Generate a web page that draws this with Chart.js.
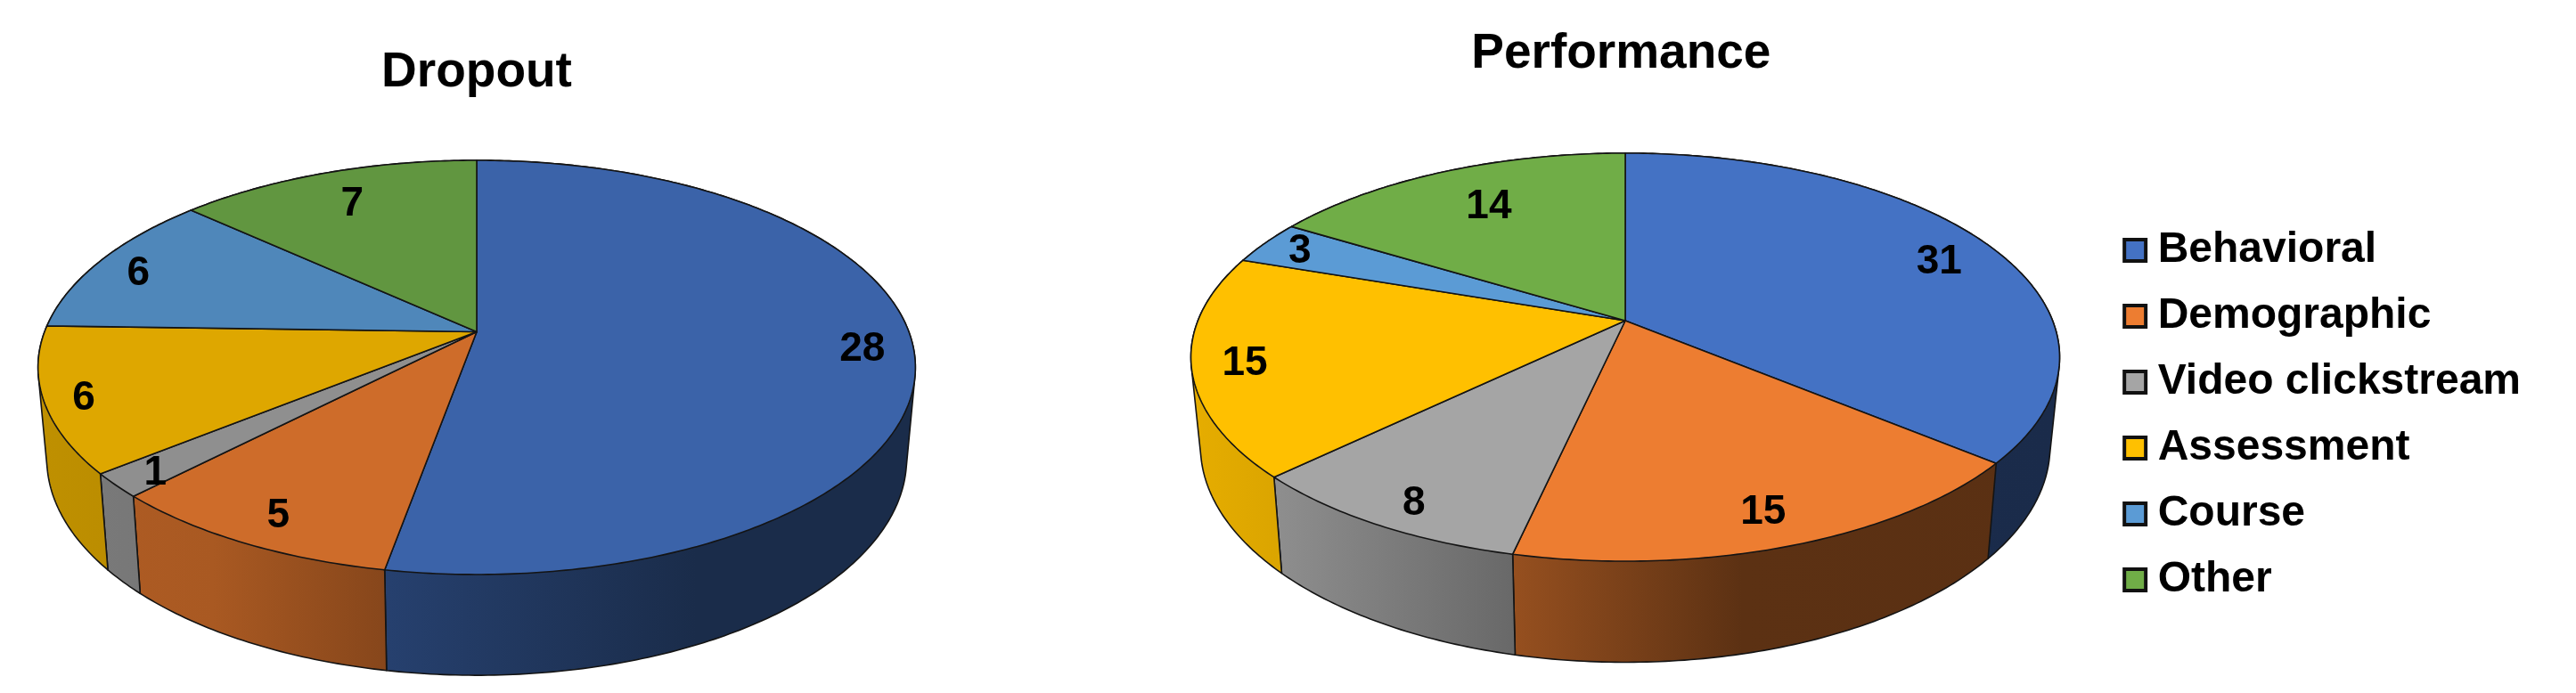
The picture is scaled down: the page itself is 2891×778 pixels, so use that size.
<!DOCTYPE html>
<html><head><meta charset="utf-8">
<style>
html,body{margin:0;padding:0;background:#fff;overflow:hidden;width:2891px;height:778px}
#stage{position:relative;width:2891px;height:778px;overflow:hidden}
canvas{position:absolute;display:block}
</style>
<script src="https://cdn.jsdelivr.net/npm/chart.js@4/dist/chart.umd.min.js"></script>
</head><body>
<div id="stage">
<canvas id="dropout" width="1070" height="778" style="left:0;top:0"></canvas>
<canvas id="performance" width="1569" height="932" style="left:1270px;top:0"></canvas>
</div>
<script>
const categories = ["Behavioral","Demographic","Video clickstream","Assessment","Course","Other"];
const dropoutValues = [28,5,1,6,6,7];
const performanceValues = [31,15,8,15,3,14];
const dropoutColors = ["#3B63A9","#CE6C2A","#8F8F8F","#DEA700","#4F87BA","#619640"];
const performanceColors = ["#4472C4","#ED7D31","#A5A5A5","#FFC000","#5B9BD5","#70AD47"];

function shade(hex,m){
  const n=parseInt(hex.slice(1),16);
  return `rgb(${Math.round((n>>16&255)*m)},${Math.round((n>>8&255)*m)},${Math.round((n&255)*m)})`;
}
function hull(points){
  const p=points.slice().sort((a,b)=>a[0]-b[0]||a[1]-b[1]);
  const cross=(o,a,b)=>(a[0]-o[0])*(b[1]-o[1])-(a[1]-o[1])*(b[0]-o[0]);
  const lo=[],up=[];
  for(const q of p){while(lo.length>1&&cross(lo[lo.length-2],lo[lo.length-1],q)<=0)lo.pop();lo.push(q);}
  for(const q of p.slice().reverse()){while(up.length>1&&cross(up[up.length-2],up[up.length-1],q)<=0)up.pop();up.push(q);}
  lo.pop();up.pop();
  return lo.concat(up);
}
const tilted3D = {
  id:'tilted3D',
  beforeDatasetDraw(chart,args,o){
    const ctx=chart.ctx, arcs=chart.getDatasetMeta(0).data, data=chart.data.datasets[0].data;
    const colors=chart.data.datasets[0].backgroundColor;
    const proj=(a,r)=>{const u=Math.cos(a)*r,v=Math.sin(a)*r,w=1-o.k*v;return [o.ax+o.B*u/w,o.ay+o.A*v/w];};
    const low=p=>[o.ax+o.sx*(p[0]-o.ax),o.ay+o.d+o.sy*(p[1]-o.ay)];
    const rim=(e)=>{const pts=[],n=Math.max(8,Math.ceil((e.endAngle-e.startAngle)*80));
      for(let i=0;i<=n;i++)pts.push(proj(e.startAngle+(e.endAngle-e.startAngle)*i/n,1));return pts;};
    ctx.save();
    ctx.lineJoin='round';
    ctx.strokeStyle=o.edge; ctx.lineWidth=o.edgeWidth;
    // extruded wall
    arcs.forEach((e,i)=>{
      const t=rim(e), b=t.map(low), h=hull(t.concat(b));
      const g=ctx.createLinearGradient(o.ax-o.hw,0,o.ax+o.hw,0);
      o.stops.forEach(s=>g.addColorStop((s[0]+1)/2,shade(colors[i],s[1])));
      ctx.beginPath();
      h.forEach((p,j)=>j?ctx.lineTo(p[0],p[1]):ctx.moveTo(p[0],p[1]));
      ctx.closePath(); ctx.fillStyle=g; ctx.fill(); ctx.stroke();
    });
    // top face
    arcs.forEach((e,i)=>{
      const t=rim(e);
      ctx.beginPath(); ctx.moveTo(o.ax,o.ay);
      t.forEach(p=>ctx.lineTo(p[0],p[1]));
      ctx.closePath(); ctx.fillStyle=colors[i]; ctx.fill(); ctx.stroke();
    });
    // value labels
    ctx.fillStyle='#000'; ctx.font=o.labelFont; ctx.textAlign='center'; ctx.textBaseline='middle';
    arcs.forEach((e,i)=>{
      const p=proj((e.startAngle+e.endAngle)/2,o.labelR), n=o.labelNudge[i];
      ctx.fillText(String(data[i]),p[0]+n[0],p[1]+2+n[1]);
    });
    ctx.restore();
    return false;
  }
};
const FONT="'Liberation Sans', Arial, sans-serif";
function makePie(id,title,values,colors,proj,titleTop,titleFull,showLegend){
  return new Chart(document.getElementById(id),{
    type:'pie',
    data:{labels:categories,datasets:[{data:values,backgroundColor:colors,borderColor:'#111',borderWidth:0}]},
    plugins:[tilted3D],
    options:{
      responsive:false,animation:false,devicePixelRatio:1,
      plugins:{
        tilted3D:proj,
        tooltip:{enabled:false},
        title:{display:true,text:title,color:'#000',fullSize:titleFull,
          font:{family:FONT,size:55,weight:'bold',lineHeight:1.2},padding:{top:titleTop,bottom:0}},
        legend:{display:showLegend,position:'right',
          labels:{color:'#000',font:{family:FONT,size:48,weight:'bold',lineHeight:1.2},
            usePointStyle:true,pointStyle:'rect',boxWidth:3,boxHeight:24,padding:26,
            generateLabels(c){
              return Chart.overrides.pie.plugins.legend.labels.generateLabels(c).map(l=>Object.assign(l,{lineWidth:4,strokeStyle:'#111',pointStyle:'rect'}));
            }}}
      }
    }
  });
}
makePie('dropout','Dropout',dropoutValues,dropoutColors,{
  ax:535,ay:372.5,k:0.172,A:225.6,B:485,hw:493,sx:0.98,sy:1.046,d:100.6,
  edge:'#141414',edgeWidth:1.6,labelR:0.89,labelFont:"bold 46px "+FONT,
  labelNudge:[[-3,0],[5.5,-2],[-5.5,5.5],[-11,5.5],[-1.5,3.7],[13,16]],
  stops:[[-1,0.86],[-0.6,0.82],[-0.2,0.65],[0.5,0.44],[1,0.44]]
},49,true,false);
makePie('performance','Performance',performanceValues,performanceColors,{
  ax:1824-1270,ay:360,k:0.179,A:221.7,B:479.6,hw:488,sx:0.978,sy:1.059,d:97.5,
  edge:'#141414',edgeWidth:1.6,labelR:0.855,labelFont:"bold 46px "+FONT,
  labelNudge:[[3.7,7.4],[0,3.7],[-5.5,13],[-13,3.7],[-16.6,-3.7],[24,16.6]],
  stops:[[-1,0.9],[-0.8,0.86],[-0.25,0.63],[0.27,0.39],[1,0.38]]
},28,false,true);
</script>
</body></html>
